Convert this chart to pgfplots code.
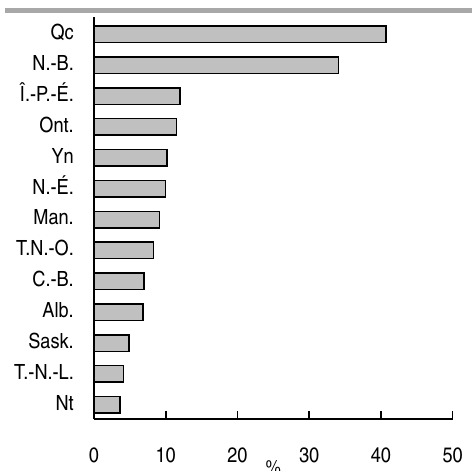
\documentclass[border=0pt]{standalone}
\usepackage{pgfplots}
\pgfplotsset{compat=1.18}
\usepackage{fontspec}
\setmainfont[FakeStretch=1.06]{TeX Gyre Heros Cn}
\definecolor{barfill}{HTML}{C0C0C0}
\definecolor{topline}{HTML}{A8A8A8}
\pgfplotstableread{
y val
0 3.6
1 4.1
2 4.9
3 6.8
4 7.0
5 8.3
6 9.1
7 9.95
8 10.2
9 11.5
10 12.0
11 34.1
12 40.7
}\datatable
\begin{document}
\begin{tikzpicture}
\useasboundingbox (0,0) rectangle (472bp,-471bp);
\fill[topline] (5bp,-8.3bp) rectangle (472bp,-12.7bp);
\begin{axis}[
  at={(94bp,-418.7bp)}, anchor=south west,
  scale only axis,
  width=358.7bp, height=401.7bp,
  xmin=0, xmax=50, ymin=-0.45, ymax=12.56,
  axis x line*=bottom, axis y line*=left,
  axis line style={-, line width=1.9bp, black},
  xtick={0,10,20,30,40,50},
  ytick={0,1,...,12},
  yticklabels={Nt,T.-N.-L.,Sask.,Alb.,C.-B.,T.N.-O.,Man.,N.-É.,Yn,Ont.,Î.-P.-É.,N.-B.,Qc},
  tick align=inside,
  major tick length=8bp,
  x tick style={line width=1.6bp, black},
  y tick style={draw=none},
  /pgf/number format/assume math mode=true,
  tick label style={font=\fontsize{21}{25}\selectfont, inner sep=0pt},
  xticklabel style={anchor=base, yshift=-44bp},
  yticklabel style={anchor=base east, xshift=-20bp, yshift=-5.4bp},
  xlabel={\%},
  xlabel style={at={(axis description cs:0.5,0)}, anchor=base, inner sep=0pt, yshift=-56bp, font=\fontsize{20}{24}\selectfont},
  clip=false,
]
\addplot[xbar, bar width=16.5bp, fill=barfill, draw=black, line width=1.5bp] table[x=val, y=y] {\datatable};
\end{axis}
\end{tikzpicture}
\end{document}
